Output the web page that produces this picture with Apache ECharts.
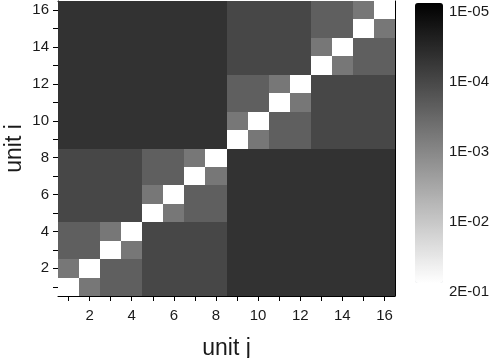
<!DOCTYPE html>
<html>
<head>
<meta charset="utf-8">
<script src="https://cdn.jsdelivr.net/npm/echarts@6/dist/echarts.min.js"></script>
<style>html,body{margin:0;padding:0;background:#fff;}#c{width:490px;height:358px;}</style>
</head>
<body>
<div id="c"></div>
<script>
// categories
const unitJ = ['1','2','3','4','5','6','7','8','9','10','11','12','13','14','15','16'];
const unitI = ['1','2','3','4','5','6','7','8','9','10','11','12','13','14','15','16'];
// matrix values: row k = unit i (k+1), column = unit j
const corr = [
  [2e-1,1e-3,4e-4,4e-4,1.6e-4,1.6e-4,1.6e-4,1.6e-4,7e-5,7e-5,7e-5,7e-5,7e-5,7e-5,7e-5,7e-5],
  [1e-3,2e-1,4e-4,4e-4,1.6e-4,1.6e-4,1.6e-4,1.6e-4,7e-5,7e-5,7e-5,7e-5,7e-5,7e-5,7e-5,7e-5],
  [4e-4,4e-4,2e-1,1e-3,1.6e-4,1.6e-4,1.6e-4,1.6e-4,7e-5,7e-5,7e-5,7e-5,7e-5,7e-5,7e-5,7e-5],
  [4e-4,4e-4,1e-3,2e-1,1.6e-4,1.6e-4,1.6e-4,1.6e-4,7e-5,7e-5,7e-5,7e-5,7e-5,7e-5,7e-5,7e-5],
  [1.6e-4,1.6e-4,1.6e-4,1.6e-4,2e-1,1e-3,4e-4,4e-4,7e-5,7e-5,7e-5,7e-5,7e-5,7e-5,7e-5,7e-5],
  [1.6e-4,1.6e-4,1.6e-4,1.6e-4,1e-3,2e-1,4e-4,4e-4,7e-5,7e-5,7e-5,7e-5,7e-5,7e-5,7e-5,7e-5],
  [1.6e-4,1.6e-4,1.6e-4,1.6e-4,4e-4,4e-4,2e-1,1e-3,7e-5,7e-5,7e-5,7e-5,7e-5,7e-5,7e-5,7e-5],
  [1.6e-4,1.6e-4,1.6e-4,1.6e-4,4e-4,4e-4,1e-3,2e-1,7e-5,7e-5,7e-5,7e-5,7e-5,7e-5,7e-5,7e-5],
  [7e-5,7e-5,7e-5,7e-5,7e-5,7e-5,7e-5,7e-5,2e-1,1e-3,4e-4,4e-4,1.6e-4,1.6e-4,1.6e-4,1.6e-4],
  [7e-5,7e-5,7e-5,7e-5,7e-5,7e-5,7e-5,7e-5,1e-3,2e-1,4e-4,4e-4,1.6e-4,1.6e-4,1.6e-4,1.6e-4],
  [7e-5,7e-5,7e-5,7e-5,7e-5,7e-5,7e-5,7e-5,4e-4,4e-4,2e-1,1e-3,1.6e-4,1.6e-4,1.6e-4,1.6e-4],
  [7e-5,7e-5,7e-5,7e-5,7e-5,7e-5,7e-5,7e-5,4e-4,4e-4,1e-3,2e-1,1.6e-4,1.6e-4,1.6e-4,1.6e-4],
  [7e-5,7e-5,7e-5,7e-5,7e-5,7e-5,7e-5,7e-5,1.6e-4,1.6e-4,1.6e-4,1.6e-4,2e-1,1e-3,4e-4,4e-4],
  [7e-5,7e-5,7e-5,7e-5,7e-5,7e-5,7e-5,7e-5,1.6e-4,1.6e-4,1.6e-4,1.6e-4,1e-3,2e-1,4e-4,4e-4],
  [7e-5,7e-5,7e-5,7e-5,7e-5,7e-5,7e-5,7e-5,1.6e-4,1.6e-4,1.6e-4,1.6e-4,4e-4,4e-4,2e-1,1e-3],
  [7e-5,7e-5,7e-5,7e-5,7e-5,7e-5,7e-5,7e-5,1.6e-4,1.6e-4,1.6e-4,1.6e-4,4e-4,4e-4,1e-3,2e-1]
];
// colour bar tick labels (top to bottom)
const colorTickLabels = ['1E-05','1E-04','1E-03','1E-02','2E-01'];
const colorMin = 1e-5;
const colorMax = 2e-1;

const heatData = [];
corr.forEach((row, i) => row.forEach((v, j) => heatData.push([j, i, Math.log10(v)])));

const FONT = 'Liberation Sans';
const TXT = '#1a1a1a';
const chart = echarts.init(document.getElementById('c'), null, {renderer: 'canvas'});
chart.setOption({
  animation: false,
  backgroundColor: '#fff',
  textStyle: {fontFamily: FONT},
  grid: [
    {left: 58, right: 95, top: 1, bottom: 62, containLabel: false, outerBoundsMode: 'none'},
    {left: 415, width: 28, top: 12, height: 280, containLabel: false, outerBoundsMode: 'none'}
  ],
  xAxis: [
    {
      type: 'category', data: unitJ, gridIndex: 0, position: 'bottom',
      name: 'unit j', nameLocation: 'middle', nameGap: 41, nameMoveOverlap: false,
      nameTextStyle: {fontSize: 23, color: TXT, fontFamily: FONT},
      axisLine: {show: true, lineStyle: {color: '#000', width: 1}},
      axisTick: {show: true, alignWithLabel: true, interval: 0, inside: false, length: 5, lineStyle: {color: '#000'}},
      axisLabel: {interval: (idx) => idx % 2 === 1, fontSize: 15, color: TXT, margin: 12, fontFamily: FONT},
      splitLine: {show: false}
    },
    {
      type: 'category', data: unitJ, gridIndex: 0, position: 'top',
      axisLine: {show: true, lineStyle: {color: '#000', width: 1}},
      axisTick: {show: true, alignWithLabel: true, interval: 0, inside: true, length: 4, lineStyle: {color: '#000'}},
      axisLabel: {show: false}, splitLine: {show: false}
    },
    {type: 'value', gridIndex: 1, min: 0, max: 1, show: false}
  ],
  yAxis: [
    {
      type: 'category', data: unitI, gridIndex: 0, position: 'left',
      name: 'unit i', nameLocation: 'middle', nameGap: 32, nameRotate: 90, nameMoveOverlap: false,
      nameTextStyle: {fontSize: 23, color: TXT, fontFamily: FONT},
      axisLine: {show: true, lineStyle: {color: '#000', width: 1}},
      axisTick: {show: true, alignWithLabel: true, interval: 0, inside: false, length: 5, lineStyle: {color: '#000'}},
      axisLabel: {interval: (idx) => idx % 2 === 1, fontSize: 15, color: TXT, margin: 9, fontFamily: FONT},
      splitLine: {show: false}
    },
    {
      type: 'category', data: unitI, gridIndex: 0, position: 'right',
      axisLine: {show: true, lineStyle: {color: '#000', width: 1}},
      axisTick: {show: true, alignWithLabel: true, interval: 0, inside: true, length: 4, lineStyle: {color: '#000'}},
      axisLabel: {show: false}, splitLine: {show: false}
    },
    {
      type: 'category', data: colorTickLabels, gridIndex: 1, position: 'right', inverse: true,
      boundaryGap: false,
      axisLine: {show: false}, axisTick: {show: false}, splitLine: {show: false},
      axisLabel: {fontSize: 15, color: TXT, margin: 6, fontFamily: FONT, interval: 0}
    }
  ],
  visualMap: {
    type: 'continuous',
    seriesIndex: 0,
    dimension: 2,
    min: Math.log10(colorMin),
    max: Math.log10(colorMax),
    inverse: true,
    orient: 'vertical',
    left: 415, top: 3,
    itemWidth: 28, itemHeight: 280,
    padding: 0,
    calculable: false,
    text: null,
    showLabel: false,
    inRange: {color: ['#000000', '#ffffff']}
  },
  series: [{
    type: 'custom',
    xAxisIndex: 0, yAxisIndex: 0,
    data: heatData,
    encode: {x: 0, y: 1},
    z: 1,
    renderItem: function (params, api) {
      const c = api.coord([api.value(0), api.value(1)]);
      const s = api.size([1, 1]);
      const x0 = Math.round(c[0] - s[0] / 2), x1 = Math.round(c[0] + s[0] / 2);
      const y0 = Math.round(c[1] - s[1] / 2), y1 = Math.round(c[1] + s[1] / 2);
      return {
        type: 'rect',
        shape: {x: x0, y: y0, width: x1 - x0, height: y1 - y0},
        style: {fill: api.visual('color'), stroke: null, lineWidth: 0}
      };
    }
  }]
});
</script>
</body>
</html>
